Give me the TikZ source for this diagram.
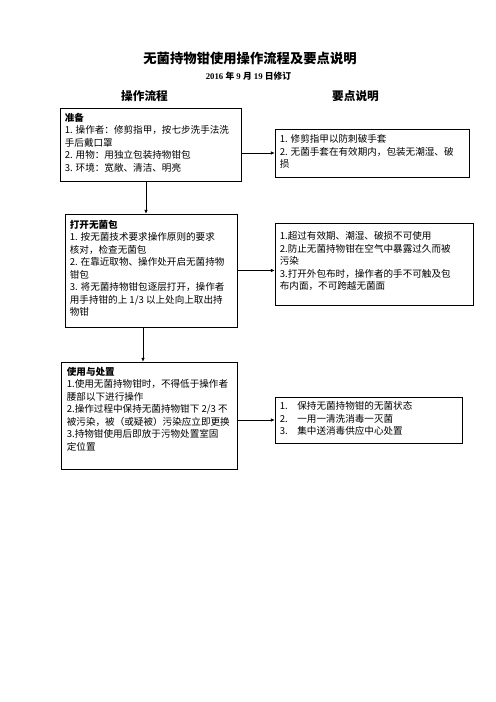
\documentclass[tikz,border=0pt]{standalone}
\usepackage{fontspec}
\setmainfont{Liberation Serif}
\newfontfamily\cjk{Noto Sans CJK SC}
\usetikzlibrary{arrows.meta}

\begin{document}
\begin{tikzpicture}[x=1.2pt, y=-1.2pt,
        box/.style={draw, line width=0.8pt, inner sep=0pt},
        txt/.style={anchor=north west, inner sep=0pt, align=left,
            font=\cjk\fontsize{11.5pt}{15pt}\selectfont},
        head/.style={font=\cjk\bfseries\fontsize{14pt}{16pt}\selectfont},
        link/.style={-{Latex[length=4.5pt,width=4pt]}, line width=0.6pt}]
    \useasboundingbox (0,0) rectangle (496,702);

    \node[font=\cjk\bfseries\fontsize{16pt}{18pt}\selectfont] (title) at (250,58) {无菌持物钳使用操作流程及要点说明};
    \node[font=\bfseries\fontsize{10.5pt}{12pt}\selectfont] (date) at (248.5,76.5) {2016 {\cjk 年} 9 {\cjk 月} 19 {\cjk 日修订}};
    \node[head] (flowhead) at (144.5,96) {操作流程};
    \node[head] (keyhead) at (355.5,96) {要点说明};

    % left column: steps
    \node[box, minimum width=217.2pt, minimum height=87.6pt] (prep) at (150.5,144.5) {};
    \node[box, minimum width=206.4pt, minimum height=135.6pt] (open) at (151,270.5) {};
    \node[box, minimum width=211.2pt, minimum height=128.4pt] (use) at (149,415.5) {};

    % right column: key points
    \node[box, minimum width=232.8pt, minimum height=57.6pt] (prepkey) at (372,153) {};
    \node[box, minimum width=237.6pt, minimum height=98.4pt] (openkey) at (374,264) {};
    \node[box, minimum width=224.4pt, minimum height=55.2pt] (usekey) at (368.5,420) {};

    \node[txt] (preptext) at ([shift={(5,5)}]prep.north west) {\textbf{准备}\\
        1. 操作者：修剪指甲，按七步洗手法洗\\
        手后戴口罩\\
        2. 用物：用独立包装持物钳包\\
        3. 环境：宽敞、清洁、明亮};
    \node[txt] (opentext) at ([shift={(5,6)}]open.north west) {\textbf{打开无菌包}\\
        1. 按无菌技术要求操作原则的要求\\
        核对，检查无菌包\\
        2. 在靠近取物、操作处开启无菌持物\\
        钳包\\
        3. 将无菌持物钳包逐层打开，操作者\\
        用手持钳的上 1/3 以上处向上取出持\\
        物钳};
    \node[txt] (usetext) at ([shift={(6,5)}]use.north west) {\textbf{使用与处置}\\
        1.使用无菌持物钳时，不得低于操作者\\
        腰部以下进行操作\\
        2.操作过程中保持无菌持物钳下 2/3 不\\
        被污染，被（或疑被）污染应立即更换\\
        3.持物钳使用后即放于污物处置室固\\
        定位置};

    \node[txt] (prepkeytext) at ([shift={(5,6)}]prepkey.north west) {1. 修剪指甲以防刺破手套\\
        2. 无菌手套在有效期内，包装无潮湿、破\\
        损};
    \node[txt] (openkeytext) at ([shift={(5,9)}]openkey.north west) {1.超过有效期、潮湿、破损不可使用\\
        2.防止无菌持物钳在空气中暴露过久而被\\
        污染\\
        3.打开外包布时，操作者的手不可触及包\\
        布内面，不可跨越无菌面};
    \node[txt] (usekeytext) at ([shift={(5,5)}]usekey.north west) {1.\quad 保持无菌持物钳的无菌状态\\
        2.\quad 一用一清洗消毒一灭菌\\
        3.\quad 集中送消毒供应中心处置};

    \draw[link] ([xshift=-5.4pt]prep.south) -- ([xshift=-5.4pt]prep.south |- open.north);
    \draw[link] ([xshift=-9.6pt]open.south) -- ([xshift=-9.6pt]open.south |- use.north);
    \draw[link] (prepkey.west -| prep.east) -- (prepkey.west);
    \draw[link] (open.east) -- (open.east -| openkey.west);
    \draw[link] (usekey.west -| use.east) -- (usekey.west);
\end{tikzpicture}
\end{document}
